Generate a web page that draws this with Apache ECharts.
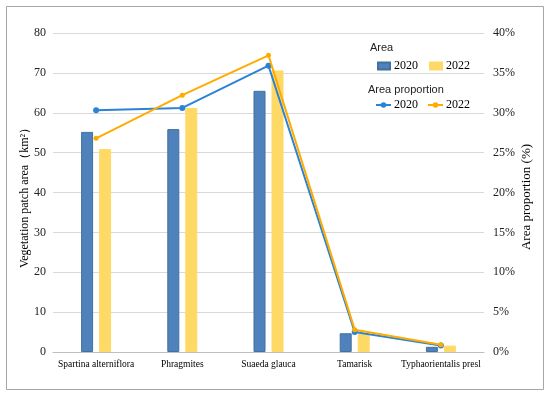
<!DOCTYPE html>
<html>
<head>
<meta charset="utf-8">
<script src="https://cdn.jsdelivr.net/npm/echarts@6/dist/echarts.min.js"></script>
<style>
html,body{margin:0;padding:0;background:#fff;}
#main{width:550px;height:396px;}
</style>
</head>
<body>
<div id="main"></div>
<script>
const categories = ['Spartina alterniflora', 'Phragmites', 'Suaeda glauca', 'Tamarisk', 'Typhaorientalis presl'];
const area2020 = [55.2, 55.9, 65.5, 4.7, 1.3];
const area2022 = [50.9, 61.2, 70.6, 4.5, 1.6];
const prop2020 = [30.3, 30.6, 35.9, 2.5, 0.8];
const prop2022 = [26.8, 32.2, 37.2, 2.8, 0.9];
const leftTicks = [0, 80, 10];
const rightTicks = [0, 40, 5];

const chart = echarts.init(document.getElementById('main'), null, {renderer: 'canvas'});
const serif = '"Liberation Serif", "Times New Roman", serif';
const sans = '"Liberation Sans", Arial, sans-serif';
const blue = '#4f81bd', yellow = '#ffd966', lblue = '#2a83d6', orange = '#ffab00';

chart.setOption({
  animation: false,
  backgroundColor: '#fff',
  grid: {left: 53, right: 66, top: 33, bottom: 44, containLabel: false},
  graphic: [
    {type: 'rect', shape: {x: 6.5, y: 6.5, width: 537, height: 383}, style: {fill: 'none', stroke: '#a6a6a6', lineWidth: 1}, z: -1},
    {type: 'text', x: 25, y: 195, rotation: Math.PI / 2, style: {text: 'Vegetation patch area（km²）', font: '12px ' + serif, fill: '#000', textAlign: 'center', textVerticalAlign: 'middle'}},
    {type: 'text', x: 527, y: 197, rotation: Math.PI / 2, style: {text: 'Area proportion (%)', font: '13px ' + serif, fill: '#000', textAlign: 'center', textVerticalAlign: 'middle'}},
    {type: 'text', x: 370, y: 48, style: {text: 'Area', font: '11px ' + sans, fill: '#222', textVerticalAlign: 'middle'}},
    {type: 'text', x: 368, y: 90, style: {text: 'Area proportion', font: '11px ' + sans, fill: '#222', textVerticalAlign: 'middle'}}
  ],
  legend: [
    {
      data: [{name: 'Area 2020', icon: 'rect'}, {name: 'Area 2022', icon: 'rect'}], left: 377, top: 60, padding: 0, itemWidth: 12, itemHeight: 7, itemGap: 11,
      formatter: n => n.split(' ').pop(),
      textStyle: {fontFamily: serif, fontSize: 12, color: '#000', padding: [0, 0, 0, -1]}
    },
    {
      data: ['Prop 2020', 'Prop 2022'], left: 375, top: 99, padding: 0, itemWidth: 15, itemHeight: 7, itemGap: 9,
      formatter: n => n.split(' ').pop(),
      textStyle: {fontFamily: serif, fontSize: 12, color: '#000', padding: [0, 0, 0, -2]}
    }
  ],
  xAxis: {
    type: 'category', data: categories,
    axisLine: {lineStyle: {color: '#bfbfbf'}},
    axisTick: {show: false},
    axisLabel: {fontFamily: serif, fontSize: 9.5, color: '#000', margin: 7, interval: 0}
  },
  yAxis: [
    {
      type: 'value', min: leftTicks[0], max: leftTicks[1], interval: leftTicks[2],
      axisLine: {show: false}, axisTick: {show: false},
      axisLabel: {fontFamily: serif, fontSize: 12, color: '#222', margin: 7},
      splitLine: {lineStyle: {color: '#d9d9d9'}}
    },
    {
      type: 'value', min: rightTicks[0], max: rightTicks[1], interval: rightTicks[2],
      axisLine: {show: false}, axisTick: {show: false},
      axisLabel: {fontFamily: serif, fontSize: 12, color: '#222', margin: 9, formatter: '{value}%'},
      splitLine: {show: false}
    }
  ],
  series: [
    {name: 'Area 2020', type: 'bar', data: area2020, barWidth: 12, barGap: '50%',
     itemStyle: {color: blue, borderColor: '#41719c', borderWidth: 1}},
    {name: 'Area 2022', type: 'bar', data: area2022, barWidth: 12, barGap: '50%',
     itemStyle: {color: yellow, borderColor: '#ffd966', borderWidth: 1}},
    {name: 'Prop 2020', type: 'line', yAxisIndex: 1, data: prop2020, symbol: 'circle', symbolSize: 6,
     lineStyle: {color: lblue, width: 2}, itemStyle: {color: lblue}, z: 3},
    {name: 'Prop 2022', type: 'line', yAxisIndex: 1, data: prop2022, symbol: 'circle', symbolSize: 5,
     lineStyle: {color: orange, width: 2}, itemStyle: {color: orange}, z: 4}
  ]
});
</script>
</body>
</html>
